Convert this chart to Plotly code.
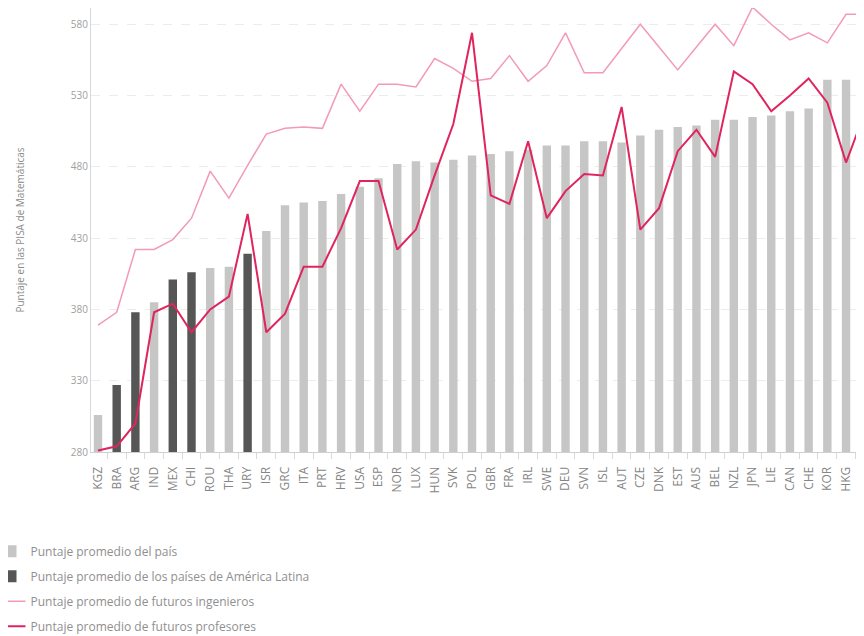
import plotly.graph_objects as go

countries = ["KGZ", "BRA", "ARG", "IND", "MEX", "CHI", "ROU", "THA", "URY", "ISR",
             "GRC", "ITA", "PRT", "HRV", "USA", "ESP", "NOR", "LUX", "HUN", "SVK",
             "POL", "GBR", "FRA", "IRL", "SWE", "DEU", "SVN", "ISL", "AUT", "CZE",
             "DNK", "EST", "AUS", "BEL", "NZL", "JPN", "LIE", "CAN", "CHE", "KOR",
             "HKG", "TWN"]

latam = ["BRA", "ARG", "MEX", "CHI", "URY"]

country_avg = [306, 327, 378, 385, 401, 406, 409, 410, 419, 435,
               453, 455, 456, 461, 466, 472, 482, 484, 483, 485,
               488, 489, 491, 492, 495, 495, 498, 498, 497, 502,
               506, 508, 509, 513, 513, 515, 516, 519, 521, 541,
               541, 542]

engineers = [369, 378, 422, 422, 429, 444, 477, 458, 481, 503,
             507, 508, 507, 538, 519, 538, 538, 536, 556, 549,
             540, 542, 558, 540, 551, 574, 546, 546, 563, 580,
             564, 548, 564, 580, 565, 592, 580, 569, 574, 567,
             587, 587]

teachers = [281, 284, 300, 378, 384, 364, 380, 389, 447, 364,
            377, 410, 410, 437, 470, 470, 422, 436, 474, 510,
            574, 460, 454, 498, 444, 463, 475, 474, 522, 436,
            451, 491, 506, 487, 547, 538, 519, 530, 542, 525,
            483, 518]

y_ticks = [280, 330, 380, 430, 480, 530, 580]

light_vals = [v if c not in latam else None for c, v in zip(countries, country_avg)]
dark_vals = [v if c in latam else None for c, v in zip(countries, country_avg)]

fig = go.Figure()
fig.add_trace(go.Bar(x=countries, y=light_vals, name="Puntaje promedio del país",
                     legendgroup="a",
                     marker=dict(color="#c6c6c6", line=dict(width=0)), width=0.45))
fig.add_trace(go.Bar(x=countries, y=dark_vals,
                     name="Puntaje promedio de los países de América Latina",
                     legendgroup="b",
                     marker=dict(color="#565656", line=dict(width=0)), width=0.45))
fig.add_trace(go.Scatter(x=countries, y=engineers, mode="lines",
                         name="Puntaje promedio de futuros ingenieros",
                         legendgroup="c", cliponaxis=False,
                         line=dict(color="#f29ab8", width=1.5)))
fig.add_trace(go.Scatter(x=countries, y=teachers, mode="lines",
                         name="Puntaje promedio de futuros profesores",
                         legendgroup="d",
                         line=dict(color="#e0245e", width=2)))

fig.update_layout(
    width=864, height=636,
    margin=dict(l=83, r=8, t=0, b=192, autoexpand=False),
    paper_bgcolor="white", plot_bgcolor="white",
    barmode="overlay",
    font=dict(family="Open Sans, sans-serif", color="#8a8a8a"),
    showlegend=True,
    legend=dict(x=-0.13, y=-0.191, xanchor="left", yanchor="top",
                orientation="v", font=dict(size=12, color="#8f8f8f"),
                traceorder="grouped", tracegroupgap=6, itemwidth=30,
                bgcolor="rgba(0,0,0,0)"),
    xaxis=dict(range=[-0.374, 40.96], tickangle=-90,
               tickfont=dict(size=12, color="#858585"), ticklabelstandoff=9,
               showline=True, linecolor="#d0d0d0", linewidth=1,
               ticks="outside", tickson="boundaries", ticklen=6, tickcolor="#d8d8d8",
               showgrid=False, automargin=False),
    yaxis=dict(range=[280, 591.4], tickvals=y_ticks,
               tickfont=dict(size=10, color="#a0a0a0"),
               showline=True, linecolor="#d8d8d8", linewidth=1,
               showgrid=True, gridcolor="#ececec", griddash="dash", zeroline=False,
               automargin=False,
               title=dict(text="Puntaje en las PISA de Matemáticas",
                          font=dict(size=10, color="#8a8a8a"), standoff=44)),
)

fig.write_html("out.html")
